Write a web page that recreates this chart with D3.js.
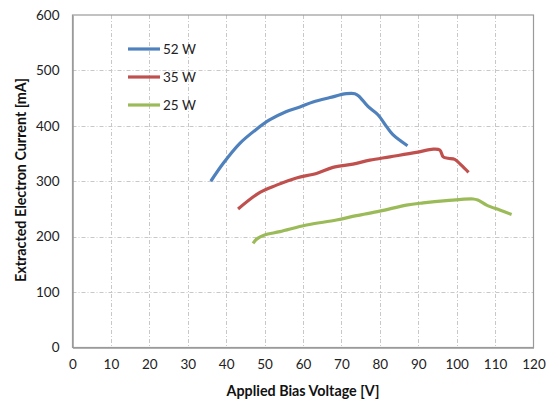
<!DOCTYPE html>
<html>
<head>
<meta charset="utf-8">
<script src="https://cdn.jsdelivr.net/npm/d3@7"></script>
<style>
  body { margin: 0; background: #fff; }
  svg { font-family: Lato, "Open Sans", sans-serif; }
</style>
</head>
<body>
<svg width="560" height="405"></svg>
<script>
// series data: [voltage V, current mA]
const seriesNames = ['52 W', '35 W', '25 W'];
const seriesColors = ['#4F81BD', '#C0504D', '#9BBB59'];

const w52 = [
  [36.0, 300], [39.2, 332], [43.5, 368], [47.9, 394], [51.4, 411], [55.7, 426],
  [59.2, 434], [62.6, 443], [67.0, 451], [71.3, 458], [73.5, 458], [74.5, 454],
  [76.9, 435], [79.5, 420], [81.7, 399], [83.4, 384], [87.2, 364]
];
const w35 = [
  [43.1, 250], [48.8, 280], [53.1, 293], [58.3, 306], [63.5, 314], [67.8, 325],
  [73.0, 331], [77.4, 338], [82.6, 344], [89.5, 352], [93.9, 358], [95.6, 356.5],
  [96.5, 344], [97.8, 341.5], [99.5, 339.5], [101.2, 329], [103.1, 316]
];
const w25 = [
  [47.0, 188], [48.0, 196], [50.0, 203], [54.0, 209], [60.9, 221], [68.7, 230],
  [73.9, 238], [80.0, 246], [86.9, 257], [91.3, 261], [97.3, 265], [104.3, 268],
  [105.5, 266], [107.8, 257], [111.2, 248], [114.3, 240]
];
const allSeries = [w52, w35, w25];

const xTicks = [0, 10, 20, 30, 40, 50, 60, 70, 80, 90, 100, 110, 120];
const yTicks = [0, 100, 200, 300, 400, 500, 600];

const svg = d3.select('svg');
const plotLeft = 72.5, plotRight = 533.5, plotTop = 15, plotBottom = 347.5;

const x = d3.scaleLinear().domain([0, 120]).range([plotLeft, plotRight]);
const y = d3.scaleLinear().domain([0, 600]).range([plotBottom, plotTop]);

// gridlines
const grid = svg.append('g')
  .attr('stroke', '#c8c8c8')
  .attr('stroke-width', 1)
  .attr('stroke-dasharray', '4,2,1,2');
grid.selectAll('line.v')
  .data(xTicks.slice(1, -1))
  .join('line')
  .attr('class', 'v')
  .attr('x1', d => Math.round(x(d)) + 0.5).attr('x2', d => Math.round(x(d)) + 0.5)
  .attr('y1', plotTop).attr('y2', plotBottom);
grid.selectAll('line.h')
  .data(yTicks.slice(1, -1))
  .join('line')
  .attr('class', 'h')
  .attr('x1', plotLeft).attr('x2', plotRight)
  .attr('y1', d => Math.round(y(d)) + 0.5).attr('y2', d => Math.round(y(d)) + 0.5);

// plot frame
svg.append('rect')
  .attr('x', plotLeft).attr('y', plotTop)
  .attr('width', plotRight - plotLeft).attr('height', plotBottom - plotTop)
  .attr('fill', 'none')
  .attr('stroke', '#9a9a9a')
  .attr('stroke-width', 1.2);

// axes
const xAxis = svg.append('g')
  .attr('transform', `translate(0,${plotBottom})`)
  .call(d3.axisBottom(x).tickValues(xTicks).tickSize(0).tickPadding(12));
const yAxis = svg.append('g')
  .attr('transform', `translate(${plotLeft},0)`)
  .call(d3.axisLeft(y).tickValues(yTicks).tickSize(0).tickPadding(13));
[xAxis, yAxis].forEach(a => {
  a.select('.domain').attr('stroke', '#9a9a9a').attr('stroke-width', 1.5);
  a.selectAll('text')
    .attr('font-family', 'Lato, "Open Sans", sans-serif')
    .attr('font-size', 13.5)
    .attr('fill', '#222');
});

// lines
const line = d3.line()
  .x(d => x(d[0]))
  .y(d => y(d[1]))
  .curve(d3.curveCatmullRom.alpha(0.5));

svg.selectAll('path.series')
  .data(allSeries)
  .join('path')
  .attr('class', 'series')
  .attr('d', line)
  .attr('fill', 'none')
  .attr('stroke', (d, i) => seriesColors[i])
  .attr('stroke-width', 3.2)
  .attr('stroke-linejoin', 'round');

// legend
const legend = svg.append('g');
seriesNames.forEach((name, i) => {
  const ly = 49 + i * 28;
  legend.append('line')
    .attr('x1', 128).attr('x2', 160)
    .attr('y1', ly).attr('y2', ly)
    .attr('stroke', seriesColors[i])
    .attr('stroke-width', 3.2);
  legend.append('text')
    .attr('x', 163).attr('y', ly + 5)
    .attr('font-size', 13.5)
    .attr('fill', '#222')
    .text(name);
});

// axis titles
svg.append('text')
  .attr('x', 303).attr('y', 396)
  .attr('text-anchor', 'middle')
  .attr('font-size', 14.3)
  .attr('font-weight', 'bold')
  .attr('fill', '#111')
  .text('Applied Bias Voltage [V]');
svg.append('text')
  .attr('transform', `translate(26,180) rotate(-90)`)
  .attr('text-anchor', 'middle')
  .attr('font-size', 14.3)
  .attr('font-weight', 'bold')
  .attr('fill', '#111')
  .text('Extracted Electron Current [mA]');
</script>
</body>
</html>
